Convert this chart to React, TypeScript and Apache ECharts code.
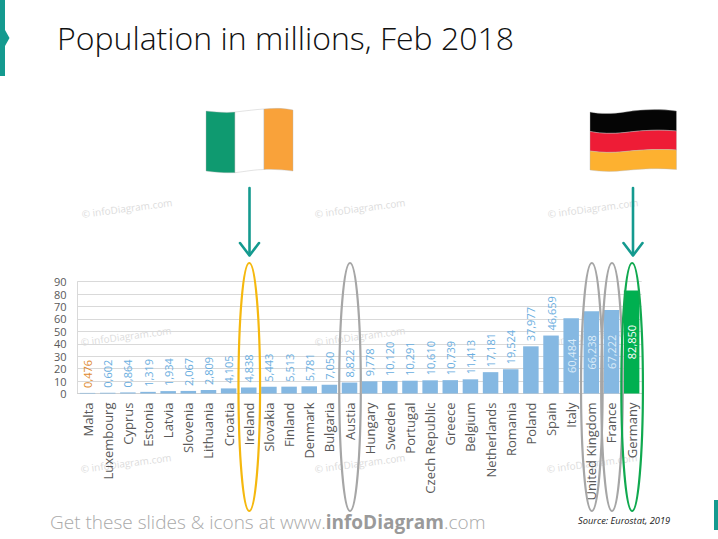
import React, { useEffect, useRef } from "react";
import * as echarts from "echarts";

const titleText = "Population in millions, Feb 2018";
const categories = ["Malta","Luxembourg","Cyprus","Estonia","Latvia","Slovenia","Lithuania","Croatia","Ireland","Slovakia","Finland","Denmark","Bulgaria","Austia","Hungary","Sweden","Portugal","Czech Republic","Greece","Belgium","Netherlands","Romania","Poland","Spain","Italy","United Kingdom","France","Germany"];
const values = [0.476,0.602,0.864,1.319,1.934,2.067,2.809,4.105,4.838,5.443,5.513,5.781,7.05,8.822,9.778,10.12,10.291,10.61,10.739,11.413,17.181,19.524,37.977,46.659,60.484,66.238,67.222,82.85];
const valueLabels = ["0,476","0,602","0,864","1,319","1,934","2,067","2,809","4,105","4,838","5,443","5,513","5,781","7,050","8,822","9,778","10,120","10,291","10,610","10,739","11,413","17,181","19,524","37,977","46,659","60,484","66,238","67,222","82,850"];
const insideLabels = ["Italy","United Kingdom","France","Germany"];
const highlighted = [
  { name: "Ireland", color: "#f5b80e" },
  { name: "Austia", color: "#a6a6a6" },
  { name: "United Kingdom", color: "#a6a6a6" },
  { name: "France", color: "#a6a6a6" },
  { name: "Germany", color: "#10a94f" },
];

const BLUE = "#85b8e2";
const LABEL_BLUE = "#6aaee0";
const TEAL = "#149a8f";
const FONT = '"Open Sans", sans-serif';

const flagParts: [string, string, string][] = [
  ["ieGreen", "#0f9a70", "M206 111 C216 112 226 113 235 112 L235 172.7 C226 173 215 172.5 206 171 Z"],
  ["ieWhite", "#ffffff", "M235 112 C245 111 255 109.5 264 109 L264 169.5 C255 169.5 245 171.5 235 172.7 Z"],
  ["ieOrange", "#f9a23a", "M264 109 C274 108 284 108 293 110 L293 171 C284 170 274 169 264 169.5 Z"],
  ["deBlack", "#050505", "M590 112 C600 114 612 114 625 112 C645 109 660 109 676.5 111 L676.5 131 C660 129.5 645 130 625 132.5 C612 134 600 133.5 590 131.5 Z"],
  ["deRed", "#ee1c36", "M590 131.5 C600 133.5 612 134 625 132.5 C645 130 660 129.5 676.5 131 L676.5 150 C660 149 645 149.5 625 151.5 C612 153 600 152.5 590 151 Z"],
  ["deGold", "#fdb130", "M590 151 C600 152.5 612 153 625 151.5 C645 149.5 660 149 676.5 150 L676.5 169.5 C660 168 645 168.5 625 170.5 C612 172 600 171.5 590 170 Z"],
];
flagParts.forEach(([name, , d]) => {
  echarts.graphic.registerShape(name, echarts.graphic.extendPath(d, {}));
});

const watermarkSpots = [
  [127, 208], [360, 208], [593, 208],
  [126, 336], [360, 336], [592, 336],
  [126, 463], [360, 463], [592, 463],
];

const GRID = { left: 77.5, right: 76.3, top: 281.7, bottom: 145.5 };

export default function App() {
  const ref = useRef<HTMLDivElement>(null);
  useEffect(() => {
    const chart = echarts.init(ref.current!, undefined, { renderer: "svg" });
    const slot = (718 - GRID.left - GRID.right) / categories.length;
    const centerX = (name: string) => GRID.left + slot * (categories.indexOf(name) + 0.5);

    const graphics: any[] = [
      { type: "polygon", z: 50, shape: { points: [[0, 0], [5, 0], [5, 30], [9.5, 38], [5, 46], [5, 76], [0, 76]] }, style: { fill: TEAL } },
      { type: "rect", z: 50, shape: { x: 714, y: 500, width: 4, height: 30 }, style: { fill: TEAL } },
      { type: "text", z: 50, x: 57, y: 37, style: { text: titleText, fill: "#111111", font: `300 32px ${FONT}`, verticalAlign: "middle" } },
      {
        type: "text", z: 50, x: 50, y: 521.5,
        style: {
          text: "{a|Get these slides & icons at www.}{b|infoDiagram}{a|.com}",
          verticalAlign: "middle",
          rich: {
            a: { fill: "#a9a9a9", font: `300 19px ${FONT}` },
            b: { fill: "#9a9a9a", font: `700 19px ${FONT}` },
          },
        },
      },
      { type: "text", z: 50, x: 578, y: 520, style: { text: "Source: Eurostat, 2019", fill: "#222222", font: `italic 9.3px ${FONT}`, verticalAlign: "middle" } },
    ];
    watermarkSpots.forEach(([x, y]) => {
      graphics.push({
        type: "text", z: -1, x, y, rotation: 0.13,
        style: { text: "© infoDiagram.com", fill: "#dcdcdc", font: `10px ${FONT}`, align: "center", verticalAlign: "middle" },
      });
    });
    flagParts.forEach(([name, fill]) => {
      graphics.push({ type: name, z: 50, x: 0, y: 0, style: { fill, stroke: "#b8b8b8", lineWidth: 0.4 } });
    });
    [249.5, 633].forEach((x) => {
      graphics.push({ type: "line", z: 50, shape: { x1: x, y1: 188, x2: x, y2: 255 }, style: { stroke: TEAL, lineWidth: 2.6, lineCap: "round" } });
      graphics.push({ type: "polyline", z: 50, shape: { points: [[x - 9.5, 243], [x, 255.5], [x + 9.5, 243]] }, style: { stroke: TEAL, lineWidth: 2.6, fill: "none", lineCap: "round", lineJoin: "round" } });
    });
    highlighted.forEach(({ name, color }) => {
      graphics.push({
        type: "ellipse", z: 60,
        shape: { cx: centerX(name) + 0.5, cy: 387, rx: 10.8, ry: 124 },
        style: { fill: "none", stroke: color, lineWidth: 2.2 },
      });
    });

    chart.setOption({
      animation: false,
      backgroundColor: "#ffffff",
      grid: GRID,
      xAxis: {
        type: "category",
        data: categories,
        axisLine: { lineStyle: { color: "#d0d0d0" } },
        axisTick: { show: false },
        axisLabel: { rotate: 90, interval: 0, margin: 9, fontFamily: FONT, fontSize: 13, color: "#595959" },
      },
      yAxis: {
        type: "value",
        min: 0,
        max: 90,
        interval: 10,
        axisLine: { show: true, lineStyle: { color: "#d9d9d9" } },
        axisTick: { show: false },
        splitLine: { lineStyle: { color: "#d9d9d9" } },
        axisLabel: { margin: 11, fontFamily: FONT, fontSize: 11, lineHeight: 12, color: "#595959" },
      },
      series: [
        {
          type: "bar",
          barWidth: 15.5,
          data: values.map((value, i) => {
            const name = categories[i];
            const inside = insideLabels.includes(name);
            return {
              value,
              itemStyle: { color: name === "Germany" ? "#00b050" : BLUE },
              label: {
                show: true,
                rotate: 90,
                fontFamily: FONT,
                fontSize: 11,
                formatter: valueLabels[i],
                ...(inside
                  ? { position: "inside", align: "center", verticalAlign: "middle", color: name === "Germany" ? "#ffffff" : "#dcecf9" }
                  : { position: "top", distance: 5, align: "left", verticalAlign: "middle", color: name === "Malta" ? "#e08a2e" : LABEL_BLUE }),
              },
            };
          }),
        },
      ],
      graphic: { elements: graphics },
    });
    return () => chart.dispose();
  }, []);
  return <div ref={ref} style={{ position: "absolute", left: 0, top: 0, width: 718, height: 539 }} />;
}
